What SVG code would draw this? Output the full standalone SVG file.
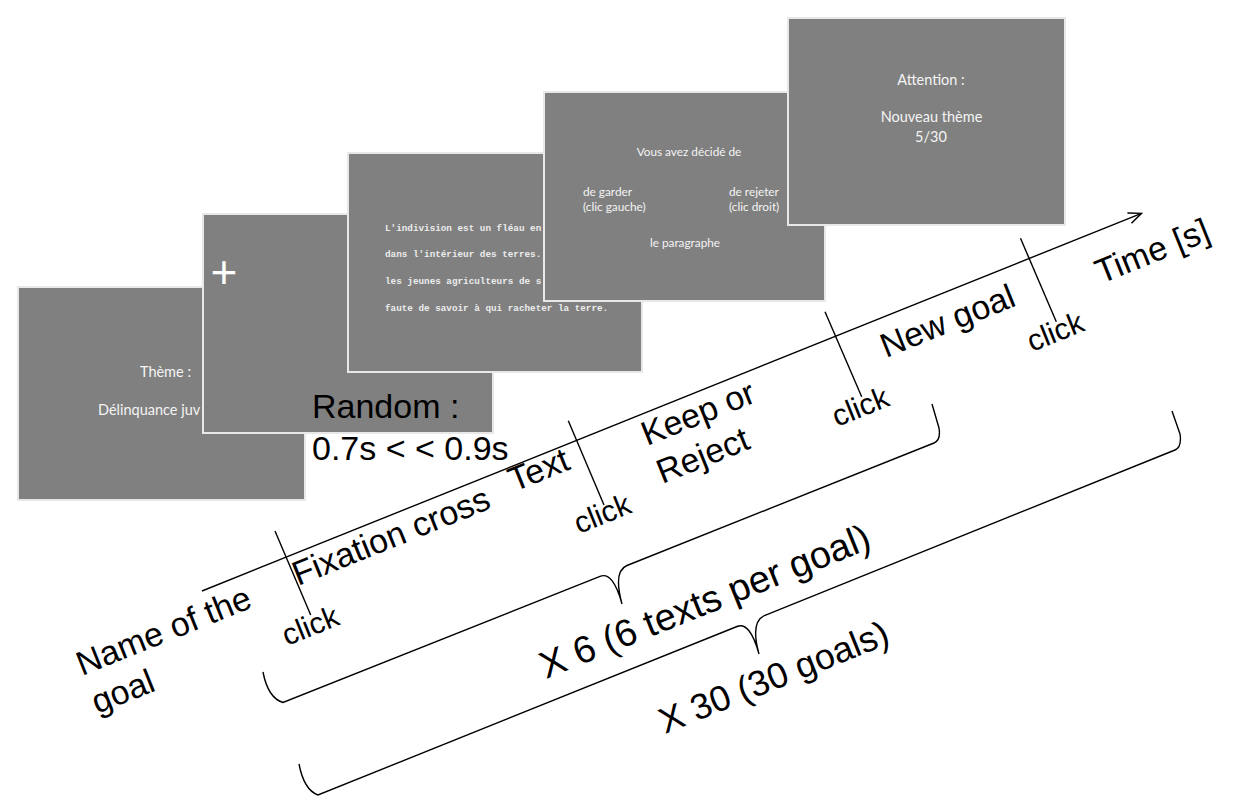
<svg xmlns="http://www.w3.org/2000/svg" width="1236" height="803" viewBox="0 0 1236 803">
<style>
.screen{fill:#808080;stroke:#e8e8e8;stroke-width:2}
.st{font-family:Lato,"Open Sans",sans-serif;fill:#f4f4f4}
.mono{font-family:"Liberation Mono","DejaVu Sans Mono",monospace;font-weight:bold;font-size:9.3px;fill:#ececec}
.lbl{font-family:"Liberation Sans",Arial,sans-serif;fill:#000;font-size:34px}
.clk{font-size:30px}
.ln{stroke:#000;stroke-width:1.4;fill:none}
</style>
<defs>
<marker id="arr" markerUnits="userSpaceOnUse" markerWidth="20" markerHeight="20" refX="0" refY="0" orient="auto" overflow="visible">
<path d="M -13 -5.5 L 0 0 L -13 5.5" fill="none" stroke="#000" stroke-width="1.4"/>
</marker>
</defs>
<rect width="1236" height="803" fill="#fff"/>

<g id="screen-theme">
<rect class="screen" x="18" y="287" width="287" height="213"/>
<text class="st" x="165.5" y="377" font-size="14.5" text-anchor="middle">Thème :</text>
<text class="st" x="98" y="415" font-size="14.5">Délinquance juv</text>
</g>

<g id="screen-fixation">
<rect class="screen" x="203" y="214" width="290" height="219"/>
<text x="224" y="288" font-family="Liberation Sans, Arial, sans-serif" font-size="46" fill="#fff" text-anchor="middle">+</text>
</g>

<g id="screen-text">
<rect class="screen" x="348" y="153" width="294" height="219"/>
<text class="mono" x="385" y="231">L'indivision est un fléau en</text>
<text class="mono" x="385" y="257">dans l'intérieur des terres.</text>
<text class="mono" x="385" y="284">les jeunes agriculteurs de s'</text>
<text class="mono" x="385" y="311">faute de savoir à qui racheter la terre.</text>
</g>

<g id="screen-decision">
<rect class="screen" x="544" y="92" width="281" height="209"/>
<text class="st" x="689" y="155.5" font-size="11.8" text-anchor="middle">Vous avez décidé de</text>
<text class="st" x="583" y="196" font-size="11.8">de garder</text>
<text class="st" x="583" y="211" font-size="11.8">(clic gauche)</text>
<text class="st" x="729" y="196" font-size="11.8">de rejeter</text>
<text class="st" x="729" y="211" font-size="11.8">(clic droit)</text>
<text class="st" x="685" y="246.5" font-size="11.8" text-anchor="middle">le paragraphe</text>
</g>

<g id="screen-attention">
<rect class="screen" x="788" y="18" width="277" height="207"/>
<text class="st" x="931" y="84.5" font-size="14.5" text-anchor="middle">Attention :</text>
<text class="st" x="931.5" y="122" font-size="14.5" text-anchor="middle">Nouveau thème</text>
<text class="st" x="931" y="141.5" font-size="14.5" text-anchor="middle">5/30</text>
</g>

<g id="connectors">
<line class="ln" x1="202" y1="591" x2="1141.5" y2="213.3" marker-end="url(#arr)"/>
<line class="ln" x1="275" y1="531" x2="310.7" y2="615"/>
<line class="ln" x1="568.3" y1="420.7" x2="604" y2="505"/>
<line class="ln" x1="825" y1="311.7" x2="861.7" y2="396.7"/>
<line class="ln" x1="1020.5" y1="238.3" x2="1056.3" y2="321.7"/>
<path class="ln" d="M 263 672 Q 268 698 283 702.5 L 600 576.4 Q 613 571 622 604 Q 613 571 627 565.5 L 934 443 Q 941 440 939 428 L 932 404"/>
<path class="ln" d="M 299 764 Q 304 790 318 795 L 737 626.5 Q 750 621.3 759 654 Q 750 621.3 765 615.3 L 1175 450 Q 1182 447 1180 434 L 1172 411"/>
</g>

<g id="label-name">
<text class="lbl" transform="translate(82 676) rotate(-21.9)"><tspan x="0" y="0">Name of the</tspan><tspan x="0" y="41">goal</tspan></text>
</g>
<g id="label-fixation"><text class="lbl" transform="translate(298 586) rotate(-21.9)">Fixation cross</text></g>
<g id="label-text"><text class="lbl" transform="translate(514 492) rotate(-21.9)">Text</text></g>
<g id="label-keep">
<text class="lbl" transform="translate(647 446) rotate(-21.9)"><tspan x="0" y="0">Keep or</tspan><tspan x="0" y="41">Reject</tspan></text>
</g>
<g id="label-newgoal"><text class="lbl" transform="translate(886 358) rotate(-21.9)">New goal</text></g>
<g id="label-time"><text class="lbl" transform="translate(1101 284) rotate(-21.9)">Time [s]</text></g>
<g id="label-clicks">
<text class="lbl clk" transform="translate(287 646) rotate(-21.9)">click</text>
<text class="lbl clk" transform="translate(579 534) rotate(-21.9)">click</text>
<text class="lbl clk" transform="translate(837 427) rotate(-21.9)">click</text>
<text class="lbl clk" transform="translate(1032 352) rotate(-21.9)">click</text>
</g>
<g id="label-x6"><text class="lbl" font-size="38" style="font-size:38px" transform="translate(546 679) rotate(-21.9)">X 6 (6 texts per goal)</text></g>
<g id="label-x30"><text class="lbl" style="font-size:36px" transform="translate(665 734) rotate(-21.9)">X 30 (30 goals)</text></g>
<g id="label-random">
<text class="lbl" x="312" y="418">Random :</text>
<text class="lbl" x="312" y="460">0.7s &lt; &lt; 0.9s</text>
</g>
</svg>
